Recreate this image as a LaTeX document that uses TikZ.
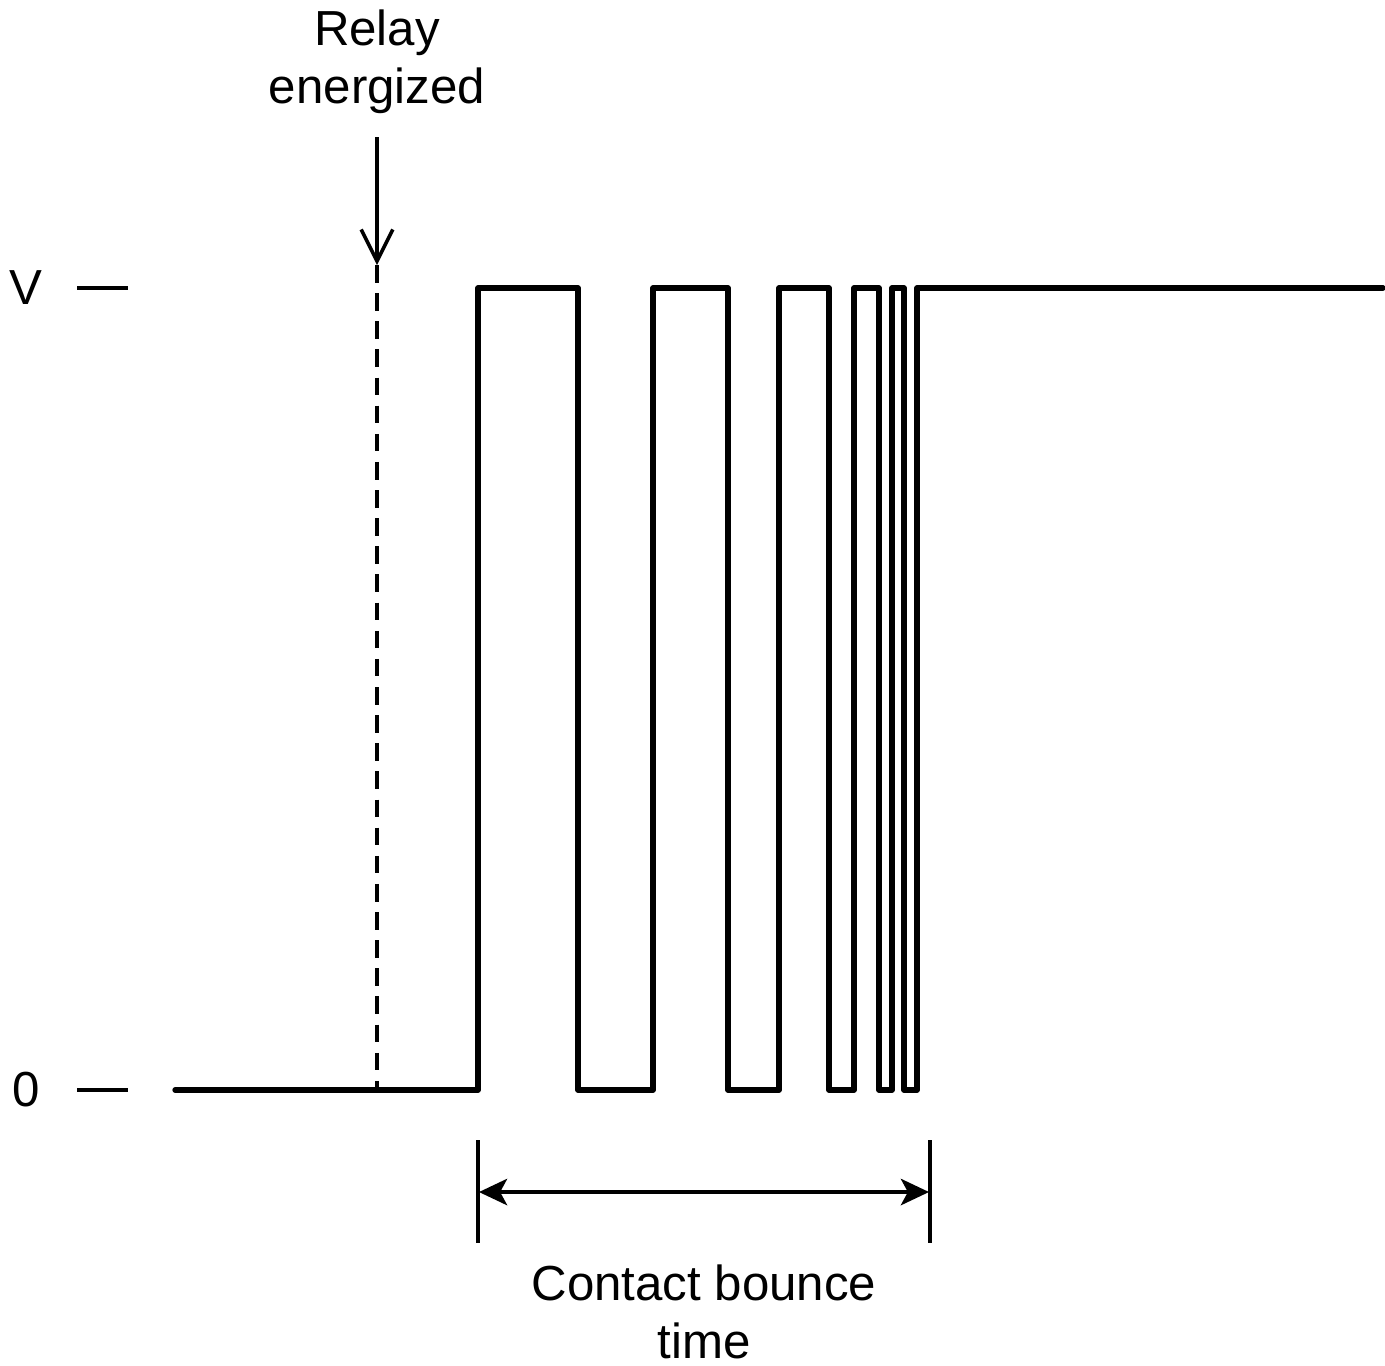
\documentclass[tikz,border=0pt]{standalone}
\usepackage{fontspec}
\setmainfont{Liberation Sans}
\usetikzlibrary{arrows.meta}
\begin{document}
\begin{tikzpicture}[x=0.01cm,y=-0.01cm,
  wave/.style={line width=1.5pt,line cap=round,line join=round},
  tick/.style={line width=1pt},
  lbl/.style={font=\fontsize{14}{16.5}\selectfont,align=center,inner sep=0pt}]
\useasboundingbox (0,0) rectangle (1385,1365);
% levels
\node[lbl] (vlab) at (26,288) {V};
\node[lbl] (zlab) at (26,1090) {0};
\coordinate (vt1) at (77,288); \coordinate (vt2) at (128,288);
\coordinate (zt1) at (77,1090); \coordinate (zt2) at (128,1090);
\draw[tick] (vt1) -- (vt2);
\draw[tick] (zt1) -- (zt2);
% waveform
\coordinate (s) at (175,1090);
\coordinate (e) at (1383,288);
\draw[wave] (s) -- (478,1090) -- (478,288) -- (578,288) -- (578,1090)
  -- (653,1090) -- (653,288) -- (728,288) -- (728,1090)
  -- (779,1090) -- (779,288) -- (829,288) -- (829,1090)
  -- (854,1090) -- (854,288) -- (879,288) -- (879,1090)
  -- (892,1090) -- (892,288) -- (904,288) -- (904,1090)
  -- (917,1090) -- (917,288) -- (e);
% relay energized
\node[lbl] (relay) at (377,62) {Relay\\energized};
\coordinate (at) at (377,137);
\coordinate (ah) at (377,265);
\coordinate (db) at (377,1090);
\draw[line width=1pt,-{Straight Barb[length=9pt,width=9pt,line width=1pt]}] (at) -- (ah);
\draw[line width=0.9pt,dash pattern=on 5pt off 3pt] (ah) -- (db);
% bounce time
\coordinate (b1t) at (478,1140); \coordinate (b1b) at (478,1243);
\coordinate (b2t) at (930,1140); \coordinate (b2b) at (930,1243);
\draw[tick] (b1t) -- (b1b);
\draw[tick] (b2t) -- (b2b);
\coordinate (m1) at (479,1192); \coordinate (m2) at (929,1192);
\draw[line width=1.1pt,{Stealth[length=8pt,width=7.5pt,inset=2pt]}-{Stealth[length=8pt,width=7.5pt,inset=2pt]}] (m1) -- (m2);
\node[lbl] (cbt) at (704,1312) {Contact bounce\\time};
\end{tikzpicture}
\end{document}
